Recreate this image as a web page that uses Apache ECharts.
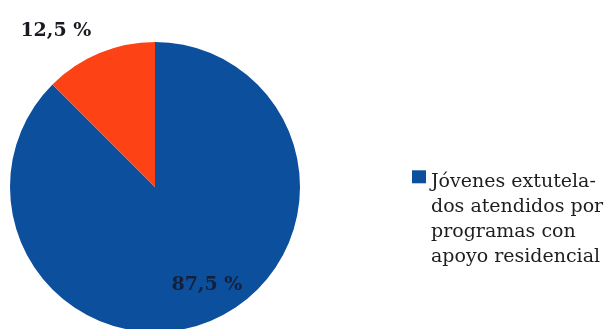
<!DOCTYPE html>
<html>
<head>
<meta charset="utf-8">
<script src="https://cdn.jsdelivr.net/npm/echarts@6/dist/echarts.min.js"></script>
<style>
  html, body { margin: 0; padding: 0; background: #ffffff; }
  #chart { width: 609px; height: 329px; }
</style>
</head>
<body>
<div id="chart"></div>
<script>
// Share of young people leaving care, by type of programme
const categories = ['Jóvenes extutela-\ndos atendidos por\nprogramas con\napoyo residencial', 'Otros'];
const shares = [87.5, 12.5];
const sliceColors = ['#0b4f9d', '#fd4316'];

const fmt = v => String(v).replace('.', ',') + ' %';

// Spacer lines above the legend text so the marker sits beside the first line
const legendText = name =>
  '{s| }\n{s| }\n{s| }\n' + name.split('\n').map(l => '{t|' + l + '}').join('\n');

const chart = echarts.init(document.getElementById('chart'));
chart.setOption({
  animation: false,
  backgroundColor: '#ffffff',
  legend: {
    data: [categories[0]],
    orient: 'vertical',
    left: 407,
    top: 84,
    icon: 'rect',
    itemWidth: 14,
    itemHeight: 13,
    selectedMode: false,
    formatter: legendText,
    textStyle: {
      fontFamily: 'DejaVu Serif',
      fontSize: 19,
      color: '#1e1e1e',
      rich: {
        s: { fontSize: 19, lineHeight: 28.3 },
        t: { fontFamily: 'DejaVu Serif', fontSize: 19, lineHeight: 25, color: '#1e1e1e' }
      }
    }
  },
  series: [{
    type: 'pie',
    center: [155, 187],
    radius: 145,
    startAngle: 90,
    clockwise: true,
    data: categories.map((name, i) => ({
      name,
      value: shares[i],
      itemStyle: { color: sliceColors[i] },
      label: i === 0
        ? { position: 'inside', offset: [23, 28], color: '#14203a' }
        : { position: 'outside' }
    })),
    label: {
      formatter: p => fmt(p.value),
      fontFamily: 'DejaVu Serif',
      fontSize: 19,
      fontWeight: 'bold',
      color: '#1a1a22'
    },
    labelLayout: p => (p.dataIndex === 1 ? { dx: 6 } : {}),
    labelLine: { show: false, length: 24, length2: 0 },
    emphasis: { disabled: true }
  }]
});
</script>
</body>
</html>
